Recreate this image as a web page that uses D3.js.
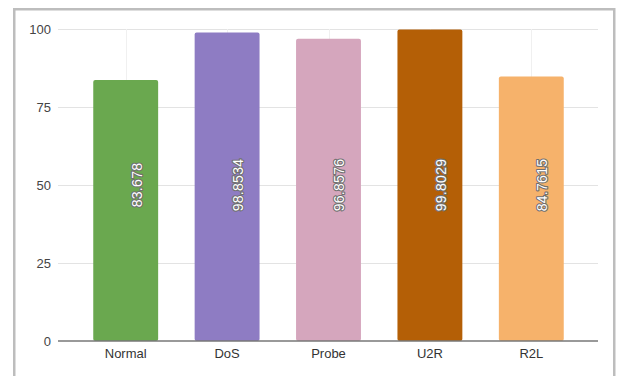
<!DOCTYPE html>
<html><head><meta charset="utf-8">
<script src="https://cdn.jsdelivr.net/npm/d3@7"></script>
<style>
html,body{margin:0;padding:0;background:#fff;}
svg{display:block;font-family:Arial,"Liberation Sans",sans-serif;}
</style></head>
<body>
<svg id="chart" width="617" height="376"></svg>
<script>
const categories = ["Normal","DoS","Probe","U2R","R2L"];
const values = [83.678, 98.8534, 96.8576, 99.8029, 84.7615];
const labels = ["83.678","98.8534","96.8576","99.8029","84.7615"];
const colors = ["#6aa84f","#8e7cc3","#d5a6bd","#b45f06","#f6b26b"];
const yTicks = [0,25,50,75,100];

const svg = d3.select("#chart");
// frame
svg.append("rect").attr("x",14.25).attr("y",9.25).attr("width",600).attr("height",380)
  .attr("fill","#fff").attr("stroke","#bdbdbd").attr("stroke-width",2.5);

const x = d3.scaleBand().domain(categories).range([75,582]).paddingInner(0.36).paddingOuter(0.18);
const y = d3.scaleLinear().domain([0,100]).range([341,29]);
const gx0 = 58, gx1 = 598;

// horizontal gridlines
svg.append("g").selectAll("line").data(yTicks.filter(d=>d>0)).join("line")
  .attr("x1",gx0).attr("x2",gx1).attr("y1",d=>y(d)+0.5).attr("y2",d=>y(d)+0.5)
  .attr("stroke","#e3e3e3").attr("stroke-width",1);
// vertical faint gridlines at band centers
svg.append("g").selectAll("line").data(categories).join("line")
  .attr("x1",d=>Math.round(x(d)+x.bandwidth()/2)+0.5).attr("x2",d=>Math.round(x(d)+x.bandwidth()/2)+0.5)
  .attr("y1",y(100)).attr("y2",y(0))
  .attr("stroke","#f0f0f0").attr("stroke-width",1);

// y axis labels
const yAxis = d3.axisLeft(y).tickValues(yTicks).tickSize(0).tickPadding(0);
const ga = svg.append("g").attr("transform","translate(51,0)").call(yAxis);
ga.select(".domain").remove();
ga.selectAll("text").attr("font-size",13).attr("fill","#444").attr("font-family","Arial,'Liberation Sans',sans-serif");

// bars
svg.append("g").selectAll("rect").data(values).join("rect")
  .attr("x",(d,i)=>x(categories[i]))
  .attr("y",d=>y(d))
  .attr("width",x.bandwidth())
  .attr("height",d=>y(0)-y(d))
  .attr("rx",2).attr("ry",2)
  .attr("fill",(d,i)=>colors[i]);

// baseline
svg.append("line").attr("x1",gx0).attr("x2",gx1).attr("y1",341).attr("y2",341)
  .attr("stroke","#777").attr("stroke-width",1.5);

// x axis labels
const xAxis = d3.axisBottom(x).tickSize(0).tickPadding(0);
const gb = svg.append("g").attr("transform","translate(0,349)").call(xAxis);
gb.select(".domain").remove();
gb.selectAll("text").attr("font-size",13).attr("fill","#333").attr("dy","0.71em").attr("font-family","Arial,'Liberation Sans',sans-serif");

// value labels (rotated)
svg.append("g").selectAll("text").data(values).join("text")
  .attr("transform",(d,i)=>`translate(${x(categories[i])+x.bandwidth()/2+11},${y(50)}) rotate(-90)`)
  .attr("text-anchor","middle").attr("dy","0.35em")
  .attr("font-size",14).attr("letter-spacing",0.3)
  .attr("fill","#fff").attr("stroke","#707070").attr("stroke-width",2.2)
  .attr("paint-order","stroke").attr("stroke-linejoin","round")
  .text((d,i)=>labels[i]);
</script>
</body></html>
